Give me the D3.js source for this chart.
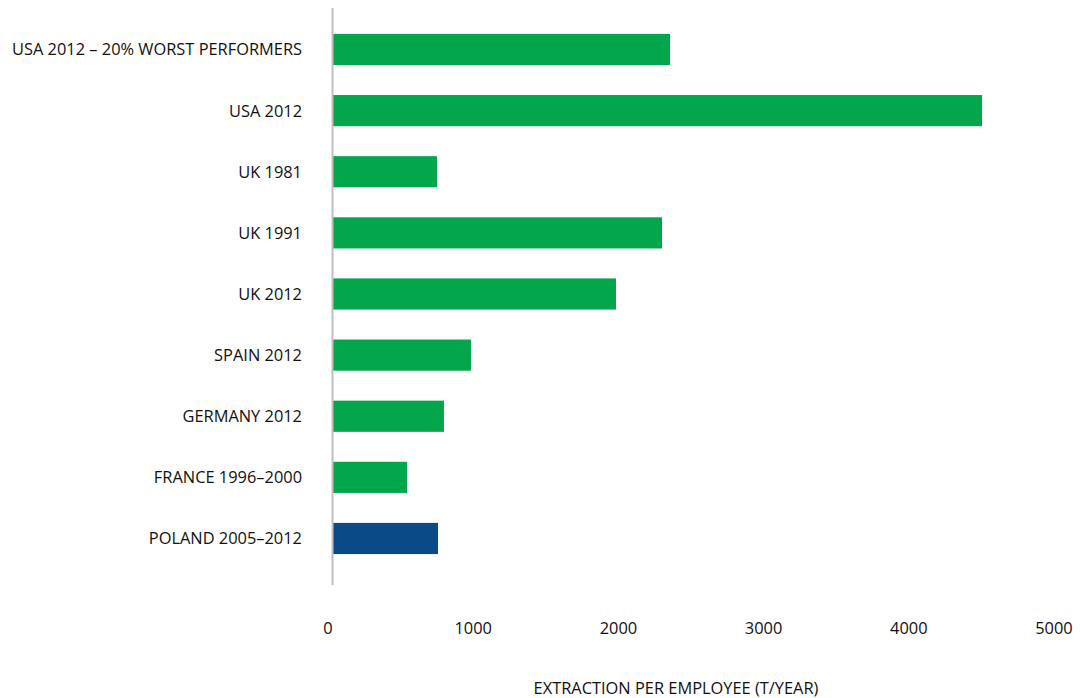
<!DOCTYPE html>
<html>
<head>
<meta charset="utf-8">
<script src="https://cdn.jsdelivr.net/npm/d3@7"></script>
<style>
  html, body { margin: 0; padding: 0; background: #ffffff; }
  svg { display: block; }
  text { font-family: "Open Sans", "Noto Sans", sans-serif; fill: #111111; }
</style>
</head>
<body>
<svg id="chart" width="1081" height="698"></svg>
<script>
const categories = [
  "USA 2012 – 20% WORST PERFORMERS",
  "USA 2012",
  "UK 1981",
  "UK 1991",
  "UK 2012",
  "SPAIN 2012",
  "GERMANY 2012",
  "FRANCE 1996–2000",
  "POLAND 2005–2012"
];
const values = [2328, 4477, 723, 2273, 1956, 957, 771, 517, 730];
const highlight = ["POLAND 2005–2012"];
const xTicks = [0, 1000, 2000, 3000, 4000, 5000];
const xTitle = "EXTRACTION PER EMPLOYEE (T/YEAR)";

const svg = d3.select("#chart");
const x = d3.scaleLinear().domain([0, 5000]).range([332, 1058]);
const y = d3.scaleBand().domain(categories).range([18.95, 569.05])
  .paddingInner(0.49).paddingOuter(0.245);

const data = categories.map((c, i) => ({ cat: c, val: values[i] }));

svg.append("g").selectAll("rect").data(data).join("rect")
  .attr("x", x(0) + 1)
  .attr("y", d => y(d.cat))
  .attr("width", d => x(d.val) - x(0) - 1)
  .attr("height", y.bandwidth())
  .attr("fill", d => highlight.includes(d.cat) ? "#094a87" : "#03a64a");

// vertical axis line
svg.append("line")
  .attr("x1", x(0) + 0.5).attr("x2", x(0) + 0.5)
  .attr("y1", 8).attr("y2", 585)
  .attr("stroke", "#bfbfbf").attr("stroke-width", 2);

const fs = 16.4;

// category labels
svg.append("g").selectAll("text").data(categories).join("text")
  .attr("x", 302)
  .attr("y", d => y(d) + y.bandwidth() / 2)
  .attr("dy", "0.36em")
  .attr("text-anchor", "end")
  .attr("font-size", fs)
  .text(d => d);

// x tick labels
svg.append("g").selectAll("text").data(xTicks).join("text")
  .attr("x", d => x(d) - 4)
  .attr("y", 628)
  .attr("dy", "0.36em")
  .attr("text-anchor", "middle")
  .attr("font-size", fs)
  .text(d => d);

// axis title
svg.append("text")
  .attr("x", 676).attr("y", 688)
  .attr("dy", "0.36em")
  .attr("text-anchor", "middle")
  .attr("font-size", fs)
  .text(xTitle);
</script>
</body>
</html>
